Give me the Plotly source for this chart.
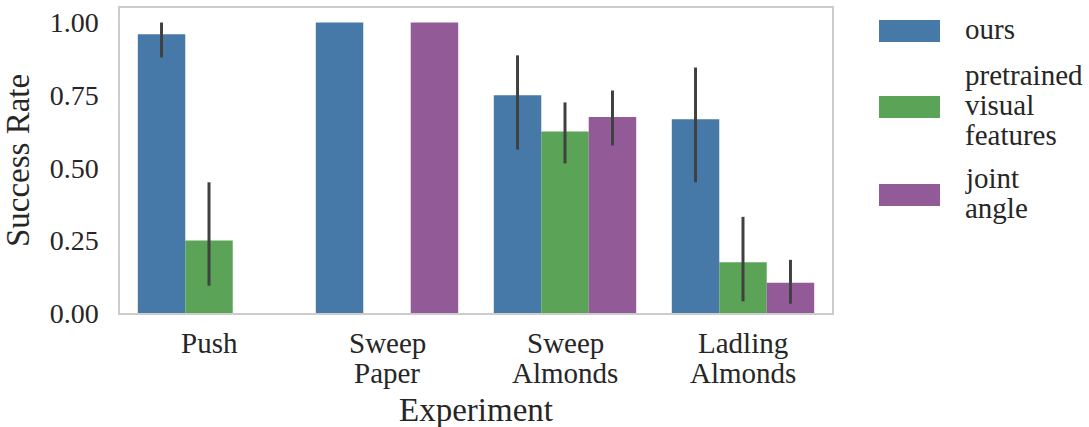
import plotly.graph_objects as go

# ---- data ----
experiments = ["Push", "Sweep Paper", "Sweep Almonds", "Ladling Almonds"]
experiment_lines = [["Push"], ["Sweep", "Paper"], ["Sweep", "Almonds"], ["Ladling", "Almonds"]]
series_names = ["ours", "pretrained\nvisual\nfeatures", "joint\nangle"]
colors = ["#4779a8", "#5aa357", "#925b98"]

ours = [0.96, 1.0, 0.75, 0.667]
ours_lo = [0.88, 1.0, 0.5625, 0.45]
ours_hi = [1.0, 1.0, 0.887, 0.845]

pretrained = [0.25, 0.0, 0.625, 0.175]
pretrained_lo = [0.094, 0.0, 0.515, 0.04]
pretrained_hi = [0.45, 0.0, 0.725, 0.331]

joint = [0.0, 1.0, 0.675, 0.104]
joint_lo = [0.0, 1.0, 0.577, 0.032]
joint_hi = [0.0, 1.0, 0.766, 0.183]

yticks = [0.0, 0.25, 0.5, 0.75, 1.0]

values = [ours, pretrained, joint]
los = [ours_lo, pretrained_lo, joint_lo]
his = [ours_hi, pretrained_hi, joint_hi]

# ---- layout constants ----
W, H = 1089, 427
ML, MR, MT, MB = 120, 257, 8, 114
PW, PH = W - ML - MR, H - MT - MB
FONT = "Liberation Serif, Times New Roman, serif"
TXT = "#262626"
TICK_FS, LAB_FS, LEG_FS = 29, 33, 29
LINE_H = 30

fig = go.Figure()
for name, col, v, lo, hi in zip(series_names, colors, values, los, his):
    fig.add_trace(go.Bar(
        x=experiments, y=v, name=name.replace("\n", " "),
        marker=dict(color=col, line=dict(width=0)),
        error_y=dict(type="data", symmetric=False,
                     array=[h - a for h, a in zip(hi, v)],
                     arrayminus=[a - l for a, l in zip(v, lo)],
                     color="#404040", thickness=3, width=0),
        showlegend=False,
    ))


def px_x(p):
    return (p - ML) / PW


def px_y(p):
    return (H - MB - p) / PH


# x tick labels (multi-line, tight line spacing)
for cat, lines in zip(experiments, experiment_lines):
    for i, ln in enumerate(lines):
        fig.add_annotation(text=ln, xref="x", yref="paper", x=cat, y=px_y(343 + i * LINE_H),
                           xanchor="center", yanchor="middle", showarrow=False,
                           font=dict(family=FONT, size=TICK_FS, color=TXT))
# x axis title
fig.add_annotation(text="Experiment", xref="paper", yref="paper", x=0.5, y=px_y(410),
                   xanchor="center", yanchor="middle", showarrow=False,
                   font=dict(family=FONT, size=LAB_FS, color=TXT))

# custom legend (large swatches, multi-line labels)
sw_x0, sw_x1, txt_x = 879, 940, 963
centers = [31, 107, 195]
text_offset = -2
for name, col, cy in zip(series_names, colors, centers):
    fig.add_shape(type="rect", xref="paper", yref="paper",
                  x0=px_x(sw_x0), x1=px_x(sw_x1),
                  y0=px_y(cy + 11), y1=px_y(cy - 11),
                  fillcolor=col, line=dict(width=0))
    lines = name.split("\n")
    n = len(lines)
    for i, ln in enumerate(lines):
        yc = cy + text_offset + (i - (n - 1) / 2) * LINE_H
        fig.add_annotation(text=ln, xref="paper", yref="paper",
                           x=px_x(txt_x), y=px_y(yc), xanchor="left", yanchor="middle",
                           showarrow=False, font=dict(family=FONT, size=LEG_FS, color=TXT))

fig.update_layout(
    width=W, height=H,
    margin=dict(l=ML, r=MR, t=MT, b=MB, autoexpand=False),
    paper_bgcolor="white", plot_bgcolor="white",
    barmode="group", bargap=0.2, bargroupgap=0,
    font=dict(family=FONT, size=TICK_FS, color=TXT),
)
fig.update_xaxes(
    showgrid=False, showline=True, mirror=True, linecolor="#cccccc", linewidth=1.5,
    ticks="", showticklabels=False, range=[-0.5, 3.5],
)
fig.update_yaxes(
    showgrid=False, showline=True, mirror=True, linecolor="#cccccc", linewidth=1.5,
    ticks="", tickvals=yticks, tickformat=".2f", tickfont=dict(size=28, color=TXT),
    ticklabelstandoff=14, zeroline=False,
    title=dict(text="Success Rate", font=dict(size=LAB_FS, color=TXT), standoff=10),
    range=[0, 1.05],
)

fig.write_html("out.html", config={"displayModeBar": False},
               post_script="document.body.style.margin='0';")
